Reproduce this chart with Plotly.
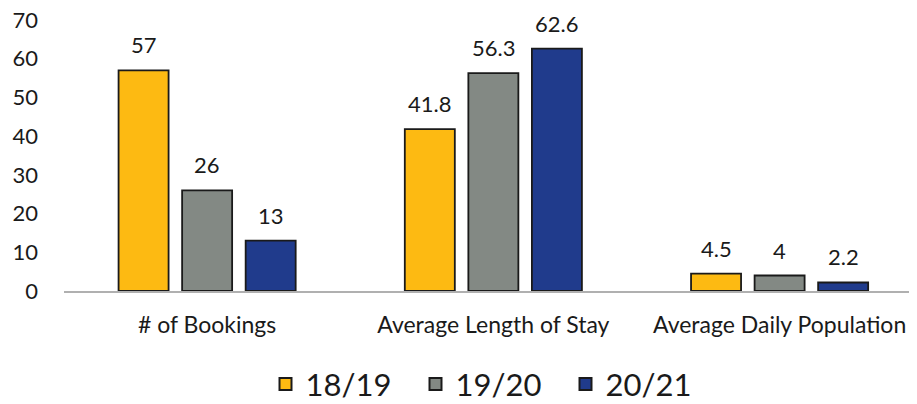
import plotly.graph_objects as go

categories = ["# of Bookings", "Average Length of Stay", "Average Daily Population"]
series_names = ["18/19", "19/20", "20/21"]
values_1819 = [57, 41.8, 4.5]
values_1920 = [26, 56.3, 4]
values_2021 = [13, 62.6, 2.2]
label_1819 = ["57", "41.8", "4.5"]
label_1920 = ["26", "56.3", "4"]
label_2021 = ["13", "62.6", "2.2"]
colors = ["#FDBA12", "#838984", "#203B8C"]
y_ticks = [0, 10, 20, 30, 40, 50, 60, 70]

all_vals = [values_1819, values_1920, values_2021]
all_labels = [label_1819, label_1920, label_2021]

FONT = "Lato, 'Open Sans', sans-serif"
TXT = "#1a1a1a"
fig = go.Figure()
for name, vals, col in zip(series_names, all_vals, colors):
    fig.add_trace(go.Bar(
        x=categories, y=vals, name=name, showlegend=False,
        marker=dict(color=col, line=dict(color="#1a1a1a", width=1.8)),
    ))
for name, col in zip(series_names, colors):
    fig.add_trace(go.Scatter(
        x=[None], y=[None], mode="markers", name=name,
        marker=dict(symbol="square", size=17, color=col,
                    line=dict(color="#1a1a1a", width=1.5)),
    ))

# data labels above bars
slot_px = 63.5
for si, (vals, labs) in enumerate(zip(all_vals, all_labels)):
    for cat, v, lab in zip(categories, vals, labs):
        fig.add_annotation(
            x=cat, y=v, xref="x", yref="y", text=lab, showarrow=False,
            xshift=(si - 1) * slot_px, yanchor="bottom", yshift=10,
            font=dict(size=22, color=TXT, family=FONT),
        )

fig.update_layout(
    width=909, height=396,
    margin=dict(l=56, r=0, t=12, b=113, autoexpand=False),
    paper_bgcolor="white", plot_bgcolor="white",
    barmode="group", bargap=0.334, bargroupgap=0.213,
    font=dict(family=FONT, color=TXT),
    legend=dict(orientation="h", x=0.5, xanchor="center", y=-0.245, yanchor="top",
                font=dict(size=31, family=FONT), itemsizing="constant",
                traceorder="normal", entrywidth=105, entrywidthmode="pixels"),
)
fig.update_xaxes(
    showline=True, linecolor="#b0b0b0", linewidth=1.5,
    showgrid=False, ticks="", tickfont=dict(size=23, family=FONT),
    ticklabelstandoff=13, range=[-0.5, 2.48], ticklabeloverflow="allow",
)
fig.update_yaxes(
    range=[0, 70], tickvals=y_ticks, showgrid=False, zeroline=False,
    showline=False, ticks="", tickfont=dict(size=22, family=FONT),
    ticklabelstandoff=25, ticklabeloverflow="allow",
)
fig.write_html("out.html")
